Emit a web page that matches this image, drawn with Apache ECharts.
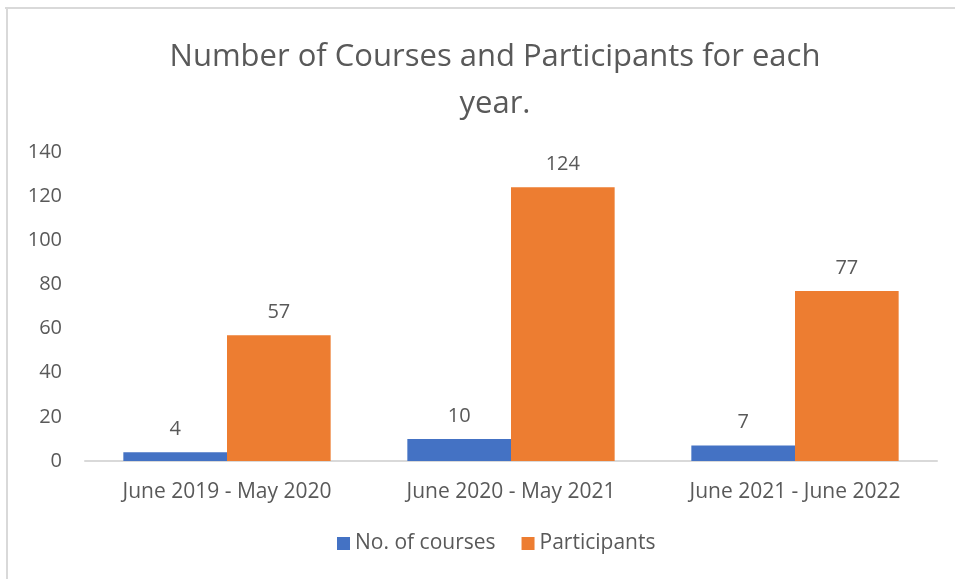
<!DOCTYPE html>
<html>
<head>
<meta charset="utf-8">
<script src="https://cdn.jsdelivr.net/npm/echarts@6/dist/echarts.min.js"></script>
<style>html,body{margin:0;padding:0;background:#fff}#c{width:955px;height:579px}</style>
</head>
<body>
<div id="c"></div>
<script>
var categories = ['June 2019 - May 2020', 'June 2020 - May 2021', 'June 2021 - June 2022'];
var courses = [4, 10, 7];
var participants = [57, 124, 77];
var seriesNames = ['No. of courses', 'Participants'];
var yTicks = { min: 0, max: 140, interval: 20 };

var FONT = '"Open Sans", "Noto Sans", sans-serif';
var TXT = '#595959';
var FS = 20;
var chart = echarts.init(document.getElementById('c'));
chart.setOption({
  animation: false,
  backgroundColor: '#fff',
  textStyle: { fontFamily: FONT },
  graphic: [
    { type: 'line', shape: { x1: 5, y1: 8, x2: 955, y2: 8 }, style: { stroke: '#D9D9D9', lineWidth: 2 } },
    { type: 'line', shape: { x1: 7, y1: 8, x2: 7, y2: 579 }, style: { stroke: '#D9D9D9', lineWidth: 2 } }
  ],
  title: {
    text: 'Number of Courses and Participants for each\nyear.',
    left: 490, textAlign: 'center', top: 29,
    textStyle: { fontFamily: FONT, fontSize: 31, fontWeight: 'normal', color: TXT, lineHeight: 47 }
  },
  legend: {
    bottom: 20, left: 332, itemWidth: 13, itemHeight: 13, itemGap: 26,
    icon: 'rect',
    textStyle: { fontFamily: FONT, fontSize: 21, color: TXT },
    data: seriesNames
  },
  grid: { left: 85, right: 18, top: 152, bottom: 118, containLabel: false },
  xAxis: {
    type: 'category', data: categories,
    axisLine: { lineStyle: { color: '#D9D9D9', width: 2 } },
    axisTick: { show: false },
    axisLabel: { fontFamily: FONT, fontSize: 21, color: TXT, margin: 21 }
  },
  yAxis: {
    type: 'value', min: yTicks.min, max: yTicks.max, interval: yTicks.interval,
    splitLine: { show: false }, axisLine: { show: false }, axisTick: { show: false },
    axisLabel: { fontFamily: FONT, fontSize: FS, color: TXT, margin: 23 }
  },
  series: [
    { name: seriesNames[0], type: 'bar', data: courses, barGap: '0%', barCategoryGap: '27%',
      itemStyle: { color: '#4472C4' },
      label: { show: true, position: 'top', distance: 13, fontFamily: FONT, fontSize: FS, color: TXT } },
    { name: seriesNames[1], type: 'bar', data: participants, barGap: '0%', barCategoryGap: '27%',
      itemStyle: { color: '#ED7D31' },
      label: { show: true, position: 'top', distance: 13, fontFamily: FONT, fontSize: FS, color: TXT } }
  ]
});
</script>
</body>
</html>
